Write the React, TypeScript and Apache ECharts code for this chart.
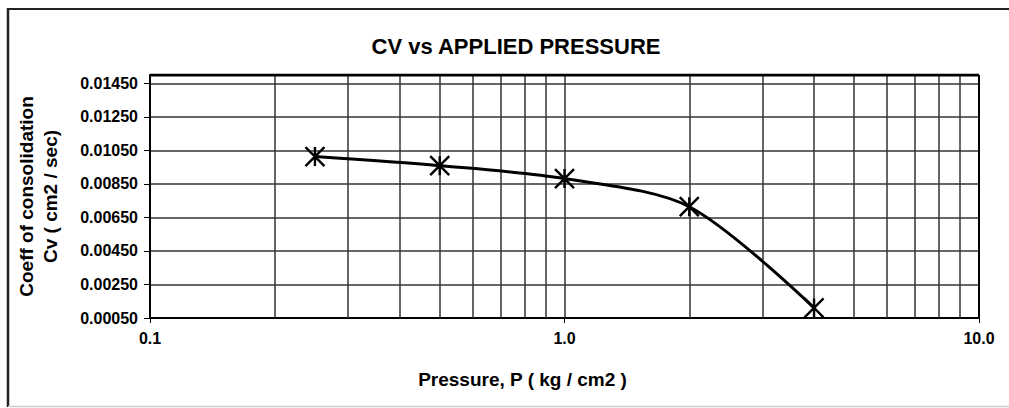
import React, { useEffect, useRef } from "react";
import * as echarts from "echarts";

const TITLE = "CV vs APPLIED PRESSURE";
const X_NAME = "Pressure, P ( kg / cm2 )";
const Y_NAME = "Coeff of consolidation\nCv ( cm2 / sec)";

const pressure = [0.25, 0.5, 1.0, 2.0, 4.0];
const cv = [0.01013, 0.00959, 0.00882, 0.00714, 0.0011];

const minorGridX = [0.2, 0.3, 0.4, 0.5, 0.6, 0.7, 0.8, 0.9, 2, 3, 4, 5, 6, 7, 8, 9];

const Y_MIN = 0.0005;
const Y_MAX = 0.015;
const Y_STEP = 0.002;
const X_MIN = 0.1;
const X_MAX = 10;

const FONT = "'Liberation Sans', Arial, sans-serif";
const GRID_COLOR = "#333";

export default function App() {
  const ref = useRef<HTMLDivElement>(null);

  useEffect(() => {
    document.body.style.margin = "0";
    if (!ref.current) return;
    const chart = echarts.init(ref.current, undefined, { renderer: "svg" });
    const data = pressure.map((p, i) => [p, cv[i]]);
    chart.setOption({
      animation: false,
      backgroundColor: "#fff",
      title: {
        text: TITLE,
        left: 511,
        top: 30,
        textAlign: "center",
        textStyle: { fontFamily: FONT, fontSize: 22, fontWeight: "bold", color: "#000" },
      },
      graphic: [
        {
          type: "line",
          shape: { x1: 8, y1: 9, x2: 1009, y2: 9 },
          style: { stroke: "#222", lineWidth: 2 },
          silent: true,
          z: 100,
        },
        {
          type: "line",
          shape: { x1: 8, y1: 8, x2: 8, y2: 407 },
          style: { stroke: "#222", lineWidth: 2.5 },
          silent: true,
          z: 100,
        },
        {
          type: "line",
          shape: { x1: 8, y1: 406.5, x2: 1009, y2: 406.5 },
          style: { stroke: "#ccc", lineWidth: 1.5 },
          silent: true,
          z: 100,
        },
      ],
      grid: { left: 150, right: 30, top: 75, bottom: 90, show: false },
      xAxis: {
        type: "log",
        logBase: 10,
        min: X_MIN,
        max: X_MAX,
        name: X_NAME,
        nameLocation: "middle",
        nameGap: 52,
        nameTextStyle: {
          fontFamily: FONT,
          fontSize: 19,
          fontWeight: "bold",
          color: "#000",
          padding: [0, 84, 0, 0],
        },
        axisLine: { show: true, lineStyle: { color: "#000", width: 2 } },
        axisTick: { show: true, length: 5, inside: false, lineStyle: { color: "#000", width: 1 } },
        axisLabel: {
          fontFamily: FONT,
          fontSize: 16,
          fontWeight: "bold",
          color: "#000",
          margin: 12,
          formatter: (v: number) => v.toFixed(1),
        },
        splitLine: { show: true, lineStyle: { color: GRID_COLOR, width: 1.5 } },
        minorTick: { show: false },
        minorSplitLine: { show: false },
      },
      yAxis: {
        type: "value",
        min: Y_MIN,
        max: Y_MAX,
        interval: Y_STEP,
        name: Y_NAME,
        nameLocation: "middle",
        nameRotate: 90,
        nameGap: 88,
        nameTextStyle: {
          fontFamily: FONT,
          fontSize: 19,
          fontWeight: "bold",
          color: "#000",
          lineHeight: 24,
          align: "center",
        },
        axisLine: { show: true, lineStyle: { color: "#000", width: 2 } },
        axisTick: { show: true, length: 6, lineStyle: { color: "#000", width: 1 } },
        axisLabel: {
          fontFamily: FONT,
          fontSize: 16,
          fontWeight: "bold",
          color: "#000",
          margin: 12,
          showMaxLabel: false,
          formatter: (v: number) => v.toFixed(5),
        },
        splitLine: { show: true, lineStyle: { color: GRID_COLOR, width: 1.5 } },
      },
      series: [
        {
          type: "line",
          data,
          smooth: 0.3,
          symbol: "path://M2 0L18 20M18 0L2 20M10 0L10 20",
          symbolSize: 19,
          itemStyle: { color: "#000", borderColor: "#000", borderWidth: 2.4 },
          lineStyle: { color: "#000", width: 3 },
          z: 5,
          markLine: {
            silent: true,
            symbol: ["none", "none"],
            label: { show: false },
            lineStyle: { color: GRID_COLOR, width: 1.5, type: "solid" },
            data: minorGridX.map((x) => ({ xAxis: x })),
            z: 1,
          },
        },
        {
          type: "line",
          data: [
            [X_MIN, Y_MAX],
            [X_MAX, Y_MAX],
          ],
          symbol: "none",
          lineStyle: { color: "#000", width: 3 },
          silent: true,
        },
        {
          type: "line",
          data: [
            [X_MAX, Y_MIN],
            [X_MAX, Y_MAX],
          ],
          symbol: "none",
          lineStyle: { color: "#000", width: 2 },
          silent: true,
        },
      ],
    });
    return () => chart.dispose();
  }, []);

  return <div ref={ref} style={{ width: 1009, height: 408 }} />;
}
